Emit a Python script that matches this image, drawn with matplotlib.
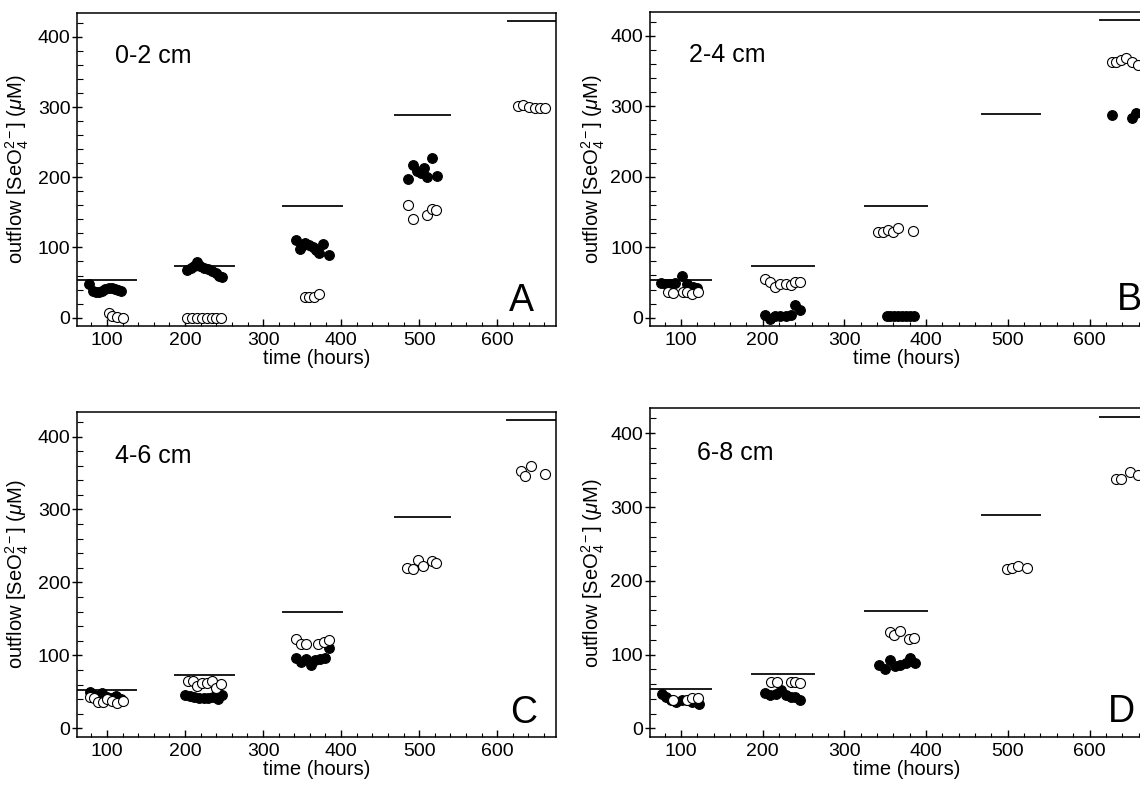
import matplotlib
matplotlib.use('Agg')
import matplotlib.pyplot as plt
from matplotlib.ticker import MultipleLocator

plt.rcParams['font.family'] = ['Liberation Sans', 'DejaVu Sans']
plt.rcParams['mathtext.fontset'] = 'custom'
plt.rcParams['mathtext.rm'] = 'Liberation Sans'
plt.rcParams['mathtext.it'] = 'Liberation Sans:italic'

# inflow concentration (horizontal bars) and the time window each one covers
inflow = [53, 73, 159, 289, 422]
bar_start = [62, 187, 325, 469, 613]
bar_end = [137, 263, 401, 539, 720]

depths = ['0-2 cm', '2-4 cm', '4-6 cm', '6-8 cm']
letters = ['A', 'B', 'C', 'D']

# panel A (0-2 cm)
a_fill_x = [77, 82, 86, 90, 94, 98, 102, 106, 110, 114, 118,
            203, 207, 211, 215, 219, 224, 229, 234, 239, 244, 247,
            342, 347, 351, 354, 359, 364, 368, 371, 377, 384,
            486, 492, 497, 502, 506, 510, 516, 522]
a_fill_y = [48, 38, 37, 37, 38, 41, 42, 42, 41, 40, 38,
            68, 71, 73, 79, 74, 70, 69, 66, 63, 60, 58,
            111, 98, 104, 107, 103, 100, 96, 92, 105, 89,
            197, 217, 209, 206, 213, 200, 227, 202]
a_open_x = [102, 107, 113, 120,
            203, 209, 215, 222, 228, 234, 240, 246,
            353, 359, 365, 371,
            486, 492, 510, 516, 521,
            627, 633, 641, 648, 654, 661]
a_open_y = [6, 2, 1, 0,
            0, 0, 0, 0, 0, 0, 0, 0,
            30, 29, 30, 33,
            160, 141, 146, 155, 153,
            302, 303, 300, 298, 298, 298]

# panel B (2-4 cm)
b_fill_x = [75, 81, 87, 93, 101, 107, 114, 120,
            203, 209, 215, 221, 228, 234, 239, 246,
            352, 356, 361, 366, 370, 375, 380, 385,
            628, 652, 657]
b_fill_y = [49, 48, 48, 49, 59, 48, 44, 42,
            4, -2, 2, 3, 3, 4, 18, 11,
            3, 3, 2, 2, 2, 2, 2, 2,
            288, 283, 290]
b_open_x = [84, 90, 102, 107, 113, 121,
            203, 209, 215, 221, 228, 234, 240, 246,
            341, 347, 353, 359, 365, 384,
            627, 633, 639, 645, 652, 659]
b_open_y = [37, 35, 37, 37, 34, 36,
            55, 51, 44, 48, 48, 46, 50, 50,
            121, 121, 124, 121, 127, 123,
            362, 363, 366, 368, 363, 359]

# panel C (4-6 cm)
c_fill_x = [78, 84, 90, 94, 100, 106, 112, 118,
            200, 206, 212, 218, 224, 230, 236, 242, 247,
            342, 348, 355, 361, 367, 373, 379, 385]
c_fill_y = [50, 45, 44, 48, 43, 42, 44, 40,
            46, 44, 43, 42, 42, 42, 43, 40, 45,
            96, 91, 95, 87, 94, 95, 97, 110]
c_open_x = [78, 83, 89, 95, 100, 106, 113, 120,
            204, 210, 216, 222, 228, 235, 240, 246,
            342, 348, 355, 371, 378, 385,
            485, 492, 499, 505, 516, 522,
            631, 636, 643, 661]
c_open_y = [43, 42, 36, 36, 40, 37, 35, 37,
            65, 65, 58, 62, 62, 65, 55, 61,
            122, 115, 115, 115, 118, 121,
            220, 218, 231, 223, 230, 226,
            353, 346, 360, 349]

# panel D (6-8 cm)
d_fill_x = [77, 82, 88, 94, 101, 107, 113, 122,
            203, 209, 216, 222, 228, 234, 240, 246,
            342, 350, 356, 362, 368, 375, 380, 386]
d_fill_y = [46, 43, 39, 36, 38, 39, 36, 33,
            48, 45, 46, 52, 45, 43, 42, 39,
            86, 81, 93, 85, 86, 88, 95, 89]
d_open_x = [90, 107, 113, 121,
            210, 217, 234, 240, 246,
            356, 361, 368, 379, 385,
            499, 505, 512, 524,
            632, 638, 650, 659]
d_open_y = [38, 39, 41, 41,
            63, 63, 63, 63, 61,
            130, 127, 132, 121, 122,
            216, 218, 220, 218,
            338, 338, 348, 344]

fills = [(a_fill_x, a_fill_y), (b_fill_x, b_fill_y), (c_fill_x, c_fill_y), (d_fill_x, d_fill_y)]
opens = [(a_open_x, a_open_y), (b_open_x, b_open_y), (c_open_x, c_open_y), (d_open_x, d_open_y)]

# layout (figure fractions) - right column runs off the edge like the original
rects = [[0.0678, 0.5852, 0.4199, 0.3982],
         [0.5702, 0.5850, 0.4500, 0.4001],
         [0.0678, 0.0623, 0.4197, 0.4139],
         [0.5702, 0.0621, 0.4500, 0.4186]]
xlims = [(62, 675), (62, 690), (62, 675), (62, 690)]
depth_x = [110, 110, 110, 120]
letter_x = [615, 634, 616, 623]
letter_y = [10, 11, 7, 9]
ylab_x = [-0.097, -0.083, -0.097, -0.083]

fig = plt.figure(figsize=(11.4, 7.86), dpi=100)

for i in range(4):
    ax = fig.add_axes(rects[i])
    for k in range(len(inflow)):
        ax.plot([bar_start[k], bar_end[k]], [inflow[k], inflow[k]], color='#1a1a1a', lw=1.4, zorder=1)
    fx, fy = fills[i]
    ox, oy = opens[i]
    ax.plot(fx, fy, 'o', ms=7, mfc='black', mec='black', mew=0.8, zorder=2)
    ax.plot(ox, oy, 'o', ms=7.2, mfc='white', mec='black', mew=0.8, zorder=3)

    ax.set_xlim(*xlims[i])
    ax.set_ylim(-12, 434)
    ax.xaxis.set_major_locator(MultipleLocator(100))
    ax.xaxis.set_minor_locator(MultipleLocator(20))
    ax.yaxis.set_major_locator(MultipleLocator(100))
    ax.yaxis.set_minor_locator(MultipleLocator(20))
    ax.tick_params(axis='x', which='major', direction='in', length=5, width=1, labelsize=14, pad=4)
    ax.tick_params(axis='x', which='minor', direction='in', length=3, width=0.8)
    ax.tick_params(axis='y', which='major', direction='inout', length=7, width=1, labelsize=14, pad=1.5)
    ax.tick_params(axis='y', which='minor', direction='in', length=4, width=0.8)
    for s in ax.spines.values():
        s.set_linewidth(1.1)

    ax.set_xlabel('time (hours)', fontsize=14.5, labelpad=0)
    ax.set_ylabel(r'outflow [SeO$_4^{2-}$] ($\mu$M)', fontsize=14.5)
    ax.yaxis.set_label_coords(ylab_x[i], 0.5)

    ax.text(depth_x[i], 373, depths[i], fontsize=18, va='center', ha='left')
    ax.text(letter_x[i], letter_y[i], letters[i], fontsize=27, va='baseline', ha='left')

fig.savefig('out.png', dpi=100)
